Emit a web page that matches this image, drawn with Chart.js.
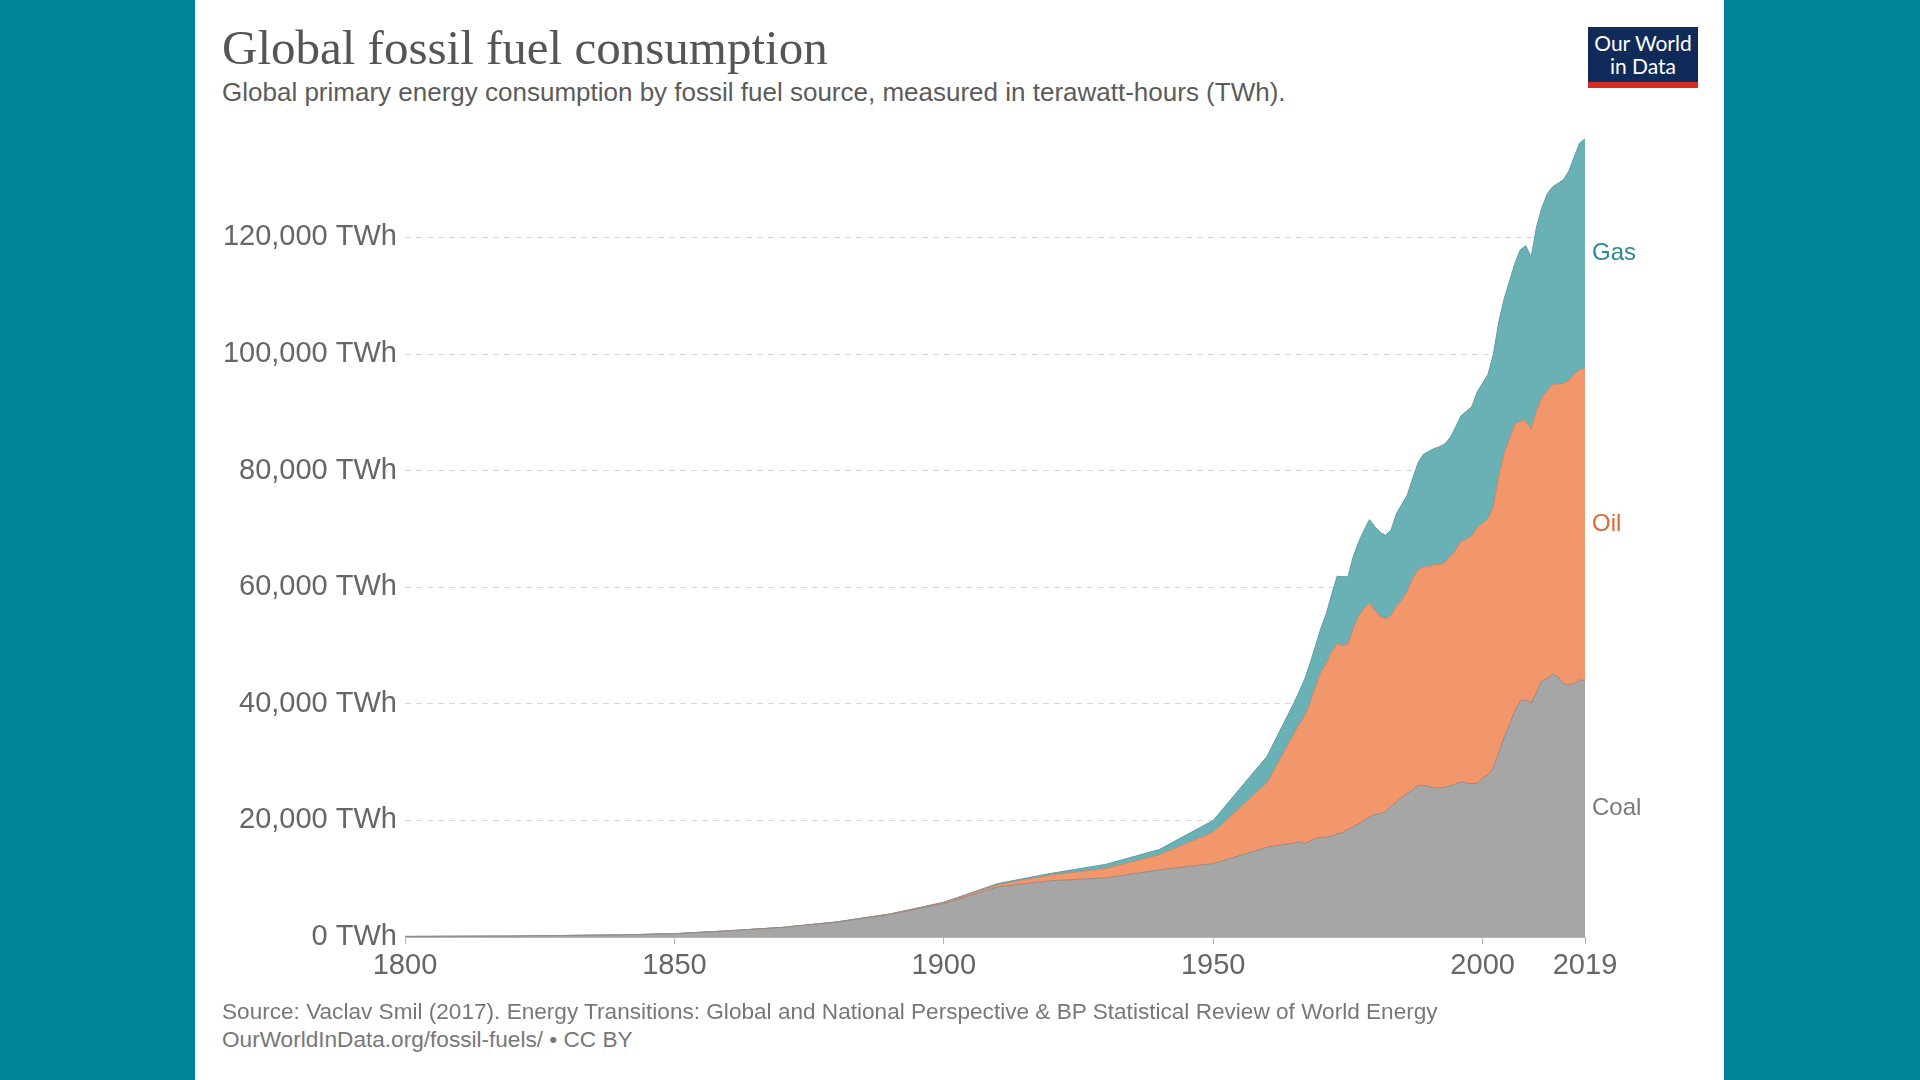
<!DOCTYPE html>
<html>
<head>
<meta charset="utf-8">
<title>Global fossil fuel consumption</title>
<script src="https://cdn.jsdelivr.net/npm/chart.js@4.4.1/dist/chart.umd.min.js"></script>
<style>
  html, body { margin: 0; padding: 0; width: 1920px; height: 1080px; overflow: hidden; background: #00849b; }
  #panel { position: absolute; left: 195px; top: 0; width: 1529px; height: 1080px; background: #fff; }
  .txt { position: absolute; line-height: 1; white-space: nowrap; }
  #title { left: 222px; top: 23px; font-size: 49px; font-family: "Liberation Serif", "DejaVu Serif", serif; color: #555; }
  #subtitle { left: 222px; top: 79px; font-size: 26px; font-family: "Liberation Sans", Arial, sans-serif; color: #5b5b5b; }
  #source { left: 222px; top: 1001px; font-size: 22.6px; font-family: "Liberation Sans", Arial, sans-serif; color: #777; }
  #url { left: 222px; top: 1029px; font-size: 22.6px; font-family: "Liberation Sans", Arial, sans-serif; color: #777; }
  #logo { position: absolute; left: 1588px; top: 27px; width: 110px; height: 51px; background: #102a5a; border-bottom: 6px solid #d42b22;
          color: #fff; font-family: Lato, "Liberation Sans", sans-serif; font-size: 21px; line-height: 23px; text-align: center; padding-top: 4px; box-sizing: content-box; }
  #wrap { position: absolute; left: 200px; top: 113px; width: 1500px; height: 887px; }
</style>
</head>
<body>
<div id="panel"></div>
<div class="txt" id="title">Global fossil fuel consumption</div>
<div class="txt" id="subtitle">Global primary energy consumption by fossil fuel source, measured in terawatt-hours (TWh).</div>
<div id="logo">Our World<br>in Data</div>
<div id="wrap"><canvas id="Chart"></canvas></div>
<div class="txt" id="source">Source: Vaclav Smil (2017). Energy Transitions: Global and National Perspective &amp; BP Statistical Review of World Energy</div>
<div class="txt" id="url">OurWorldInData.org/fossil-fuels/ • CC BY</div>

<script>
const years = [
    1800, 1810, 1820, 1830, 1840, 1850, 1860, 1870, 1880, 1890, 1900, 1910, 1920, 1930, 1940, 1950, 1960,
    1965, 1966, 1967, 1968, 1969, 1970, 1971, 1972, 1973, 1974, 1975, 1976, 1977, 1978, 1979,
    1980, 1981, 1982, 1983, 1984, 1985, 1986, 1987, 1988, 1989, 1990, 1991, 1992, 1993, 1994,
    1995, 1996, 1997, 1998, 1999, 2000, 2001, 2002, 2003, 2004, 2005, 2006, 2007, 2008, 2009,
    2010, 2011, 2012, 2013, 2014, 2015, 2016, 2017, 2018, 2019
];

// TWh per year
const coalTWh = [
    97, 128, 153, 264, 356, 569, 1061, 1642, 2542, 3856, 5728, 8600, 9650, 10150, 11500, 12600, 15400,
    16100, 16300, 16000, 16500, 16900,
    17100, 17100, 17300, 17700, 17900,
    18500, 18900, 19400, 20000, 20600,
    21000, 21200, 21500, 22400, 23200,
    24000, 24600, 25300, 26000, 26000,
    25800, 25600, 25600, 25700, 25900,
    26300, 26600, 26400, 26300, 26400,
    27300, 27800, 29000, 31700, 34300,
    36500, 38800, 40500, 40700, 40100,
    42000, 44000, 44300, 45100, 44700,
    43400, 43200, 43500, 44100, 44000
];

const oilTWh = [
    0, 0, 0, 0, 0, 0, 0, 6, 33, 88, 181, 380, 1000, 1600, 2600, 5400, 11100,
    18800, 20300, 22000, 23700, 26100,
    28400, 29900, 31700, 32600, 32100,
    31700, 34100, 35600, 36400, 36800,
    35000, 33800, 33100, 32800, 33600,
    33800, 34800, 36200, 37000, 37500,
    37700, 38300, 38300, 38600, 39400,
    40100, 41300, 41800, 42600, 43800,
    43700, 44000, 44800, 47300, 48700,
    49000, 49200, 48000, 47900, 46900,
    48300, 48500, 49400, 49700, 50200,
    51600, 52300, 53000, 53200, 53600
];

const gasTWh = [
    0, 0, 0, 0, 0, 0, 0, 0, 0, 12, 64, 180, 280, 700, 900, 2000, 4500,
    5300, 5600, 6300, 6800, 7000,
    7500, 8500, 9800, 11600, 11800,
    11600, 12300, 12800, 13400, 14200,
    14400, 14400, 14300, 14600, 15800,
    16400, 16400, 17100, 18300, 19300,
    19800, 19900, 20200, 20300, 20400,
    21100, 21500, 22000, 22100, 23300,
    24000, 24700, 26200, 26500, 26500,
    27000, 27600, 29400, 30000, 29600,
    31500, 32600, 33800, 33900, 34400,
    34900, 35900, 37300, 38900, 39300
];

const seriesNames = ["Coal", "Oil", "Gas"];
const xTickYears = [1800, 1850, 1900, 1950, 2000, 2019];
const yTickValues = [0, 20000, 40000, 60000, 80000, 100000, 120000];

const fillColors = ["#a6a6a6", "#f2976b", "#6ab1b5"];
const lineColors = ["#8c8c8c", "#d4825c", "#55a0a5"];
const labelColors = ["#7a7a7a", "#dd6a33", "#2d8790"];

const toPoints = vals => vals.map((v, i) => ({ x: years[i], y: v }));

const endLabels = {
    id: "endLabels",
    afterDatasetsDraw(chart) {
        const { ctx, chartArea, scales } = chart;
        const last = years.length - 1;
        let base = 0;
        ctx.save();
        ctx.font = '24px "Liberation Sans", Arial, sans-serif';
        ctx.textBaseline = "middle";
        ctx.textAlign = "left";
        chart.data.datasets.forEach((ds, i) => {
            const v = ds.data[last].y;
            const y = scales.y.getPixelForValue(base + v / 2);
            base += v;
            ctx.fillStyle = labelColors[i];
            ctx.fillText(ds.label, chartArea.right + 7, y);
        });
        ctx.restore();
    }
};

const ctx = document.getElementById("Chart");
const data = {
    datasets: [coalTWh, oilTWh, gasTWh].map((vals, i) => ({
        label: seriesNames[i],
        data: toPoints(vals),
        backgroundColor: fillColors[i],
        borderColor: lineColors[i],
        borderWidth: 1,
        fill: i === 0 ? "origin" : "-1",
        pointRadius: 0,
        tension: 0,
    }))
};

const tickFont = { family: '"Liberation Sans", Arial, sans-serif', size: 29 };

const config = {
    type: "line",
    data: data,
    options: {
        responsive: true,
        maintainAspectRatio: false,
        animation: false,
        layout: { padding: { top: 17, right: 115, left: 0, bottom: 0 } },
        plugins: {
            legend: { display: false },
            tooltip: { enabled: false },
        },
        scales: {
            x: {
                type: "linear",
                min: 1800,
                max: 2019,
                afterBuildTicks: s => { s.ticks = xTickYears.map(v => ({ value: v })); },
                afterFit: s => { s.height = 63; },
                ticks: {
                    autoSkip: false,
                    maxRotation: 0,
                    padding: 5,
                    color: "#666",
                    font: tickFont,
                    callback: v => String(v),
                },
                grid: { drawOnChartArea: false, drawTicks: true, tickLength: 7, color: "#b5b5b5" },
                border: { display: true, color: "#b5b5b5" },
            },
            y: {
                stacked: true,
                min: 0,
                max: 137000,
                afterBuildTicks: s => { s.ticks = yTickValues.map(v => ({ value: v })); },
                afterFit: s => { s.width = 205; },
                ticks: {
                    padding: 8,
                    color: "#666",
                    font: tickFont,
                    callback: v => v.toLocaleString("en-US") + " TWh",
                },
                grid: { color: "#d6d6d6", drawTicks: false },
                border: { display: false, dash: [6, 5] },
            },
        },
    },
    plugins: [endLabels],
};

new Chart(ctx, config);
</script>
</body>
</html>
